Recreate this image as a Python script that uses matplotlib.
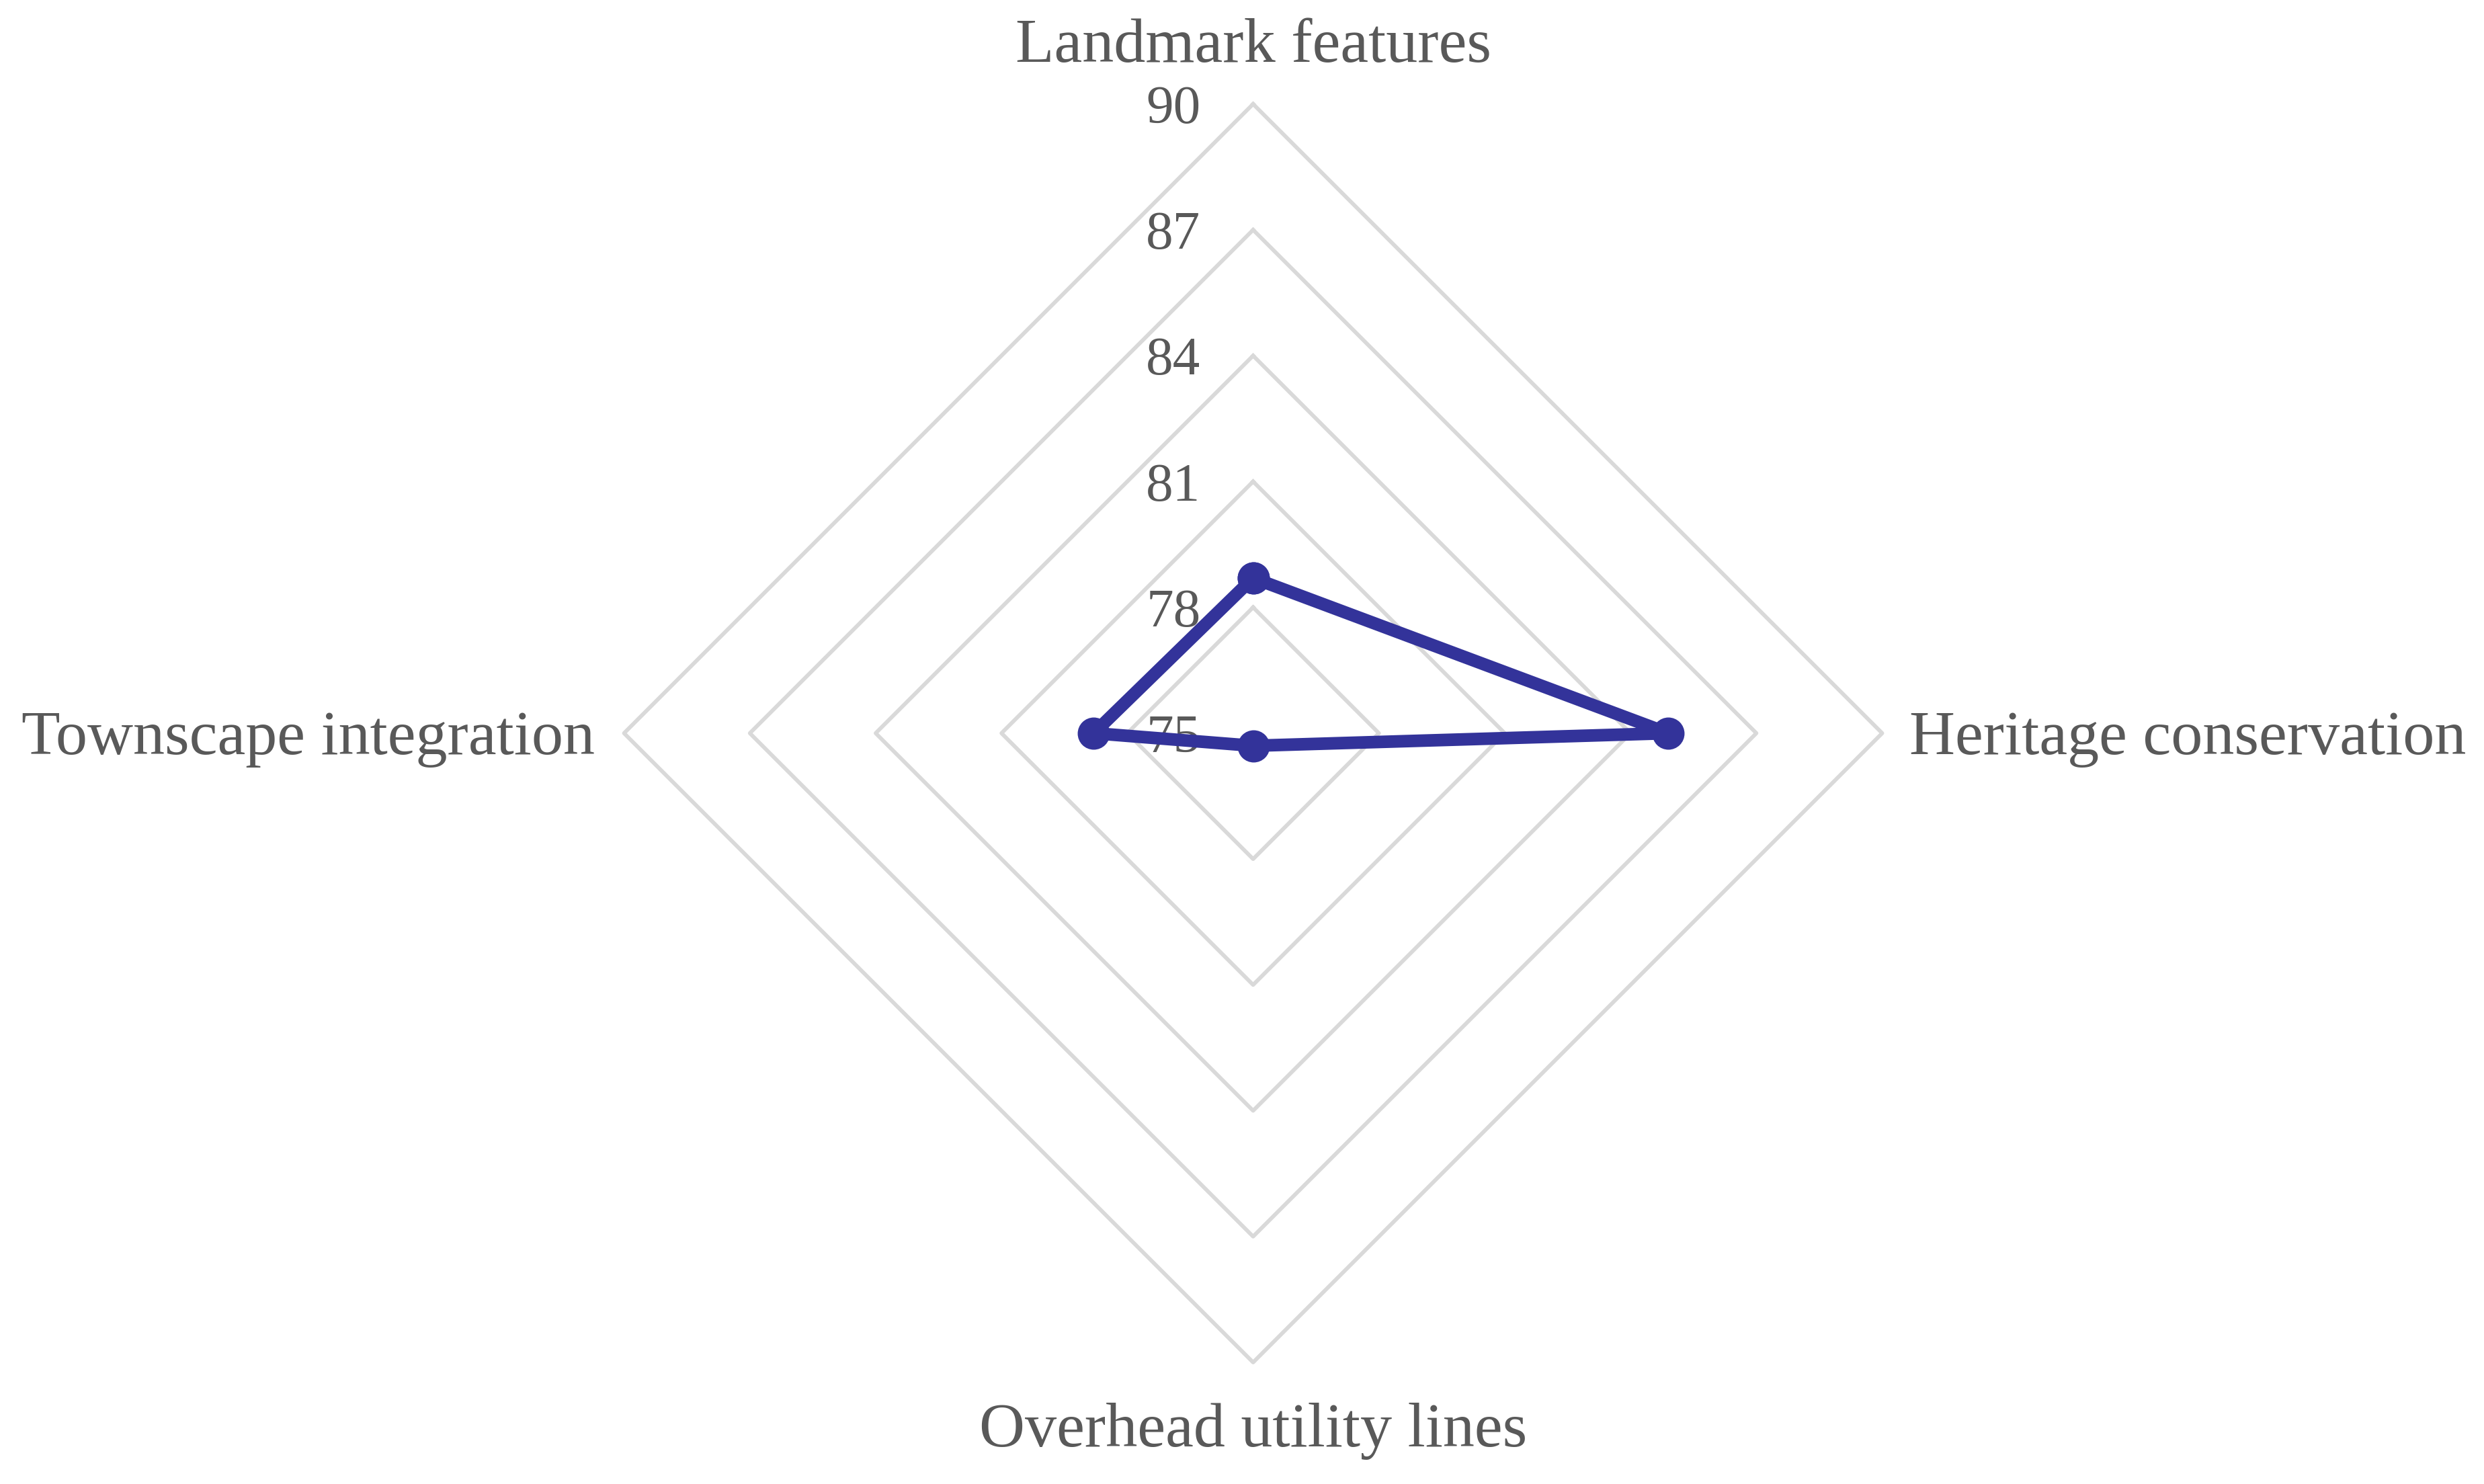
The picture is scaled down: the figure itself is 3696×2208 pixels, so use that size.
import numpy as np
import matplotlib.pyplot as plt

plt.rcParams['font.family'] = ['Liberation Serif', 'DejaVu Serif']

# 데이터
categories = ['Landmark features', 'Heritage conservation',
              'Overhead utility lines', 'Townscape integration']
scores = [78.7, 84.9, 75.3, 78.8]
ring_values = [75, 78, 81, 84, 87, 90]
r_min = 75

text_color = '#595959'
grid_color = '#D9D9D9'
line_color = '#33339A'

# 축 방향: 위에서 시작해서 시계방향
angles = np.arange(len(categories)) * 2 * np.pi / len(categories)


def to_xy(values):
    r = np.asarray(values, dtype=float) - r_min
    return r * np.sin(angles), r * np.cos(angles)


fig = plt.figure(figsize=(12.32, 7.36), dpi=300)
ax = fig.add_axes([0, 0, 1, 1])
ax.set_xlim(-29.88, 29.35)
ax.set_ylim(-17.9, 17.48)
ax.axis('off')

# 다이아몬드 격자
for v in ring_values[1:]:
    gx, gy = to_xy([v] * len(categories))
    ax.plot(np.append(gx, gx[0]), np.append(gy, gy[0]),
            color=grid_color, lw=1.4, zorder=1)

# 눈금 라벨 (글자 중심을 살짝 아래로)
dy = -0.14
for v in ring_values:
    ax.text(-1.25, v - r_min + dy, str(v), ha='right', va='center',
            fontsize=19.5, color=text_color, zorder=2)

# 데이터 선
x, y = to_xy(scores)
ax.plot(np.append(x, x[0]), np.append(y, y[0]), color=line_color,
        lw=4.5, marker='o', markersize=10.5, zorder=3,
        solid_joinstyle='round')

# 카테고리 라벨
top = ring_values[-1] - r_min
ax.text(0, top + 1.5 + dy, categories[0], ha='center', va='center',
        fontsize=22.6, color=text_color)
ax.text(top + 0.65, dy, categories[1], ha='left', va='center',
        fontsize=22.6, color=text_color)
ax.text(0, -top - 1.5 + dy, categories[2], ha='center', va='center',
        fontsize=22.6, color=text_color)
ax.text(-top - 0.7, dy, categories[3], ha='right', va='center',
        fontsize=22.6, color=text_color)

fig.savefig('out.png', dpi=300, facecolor='white')
